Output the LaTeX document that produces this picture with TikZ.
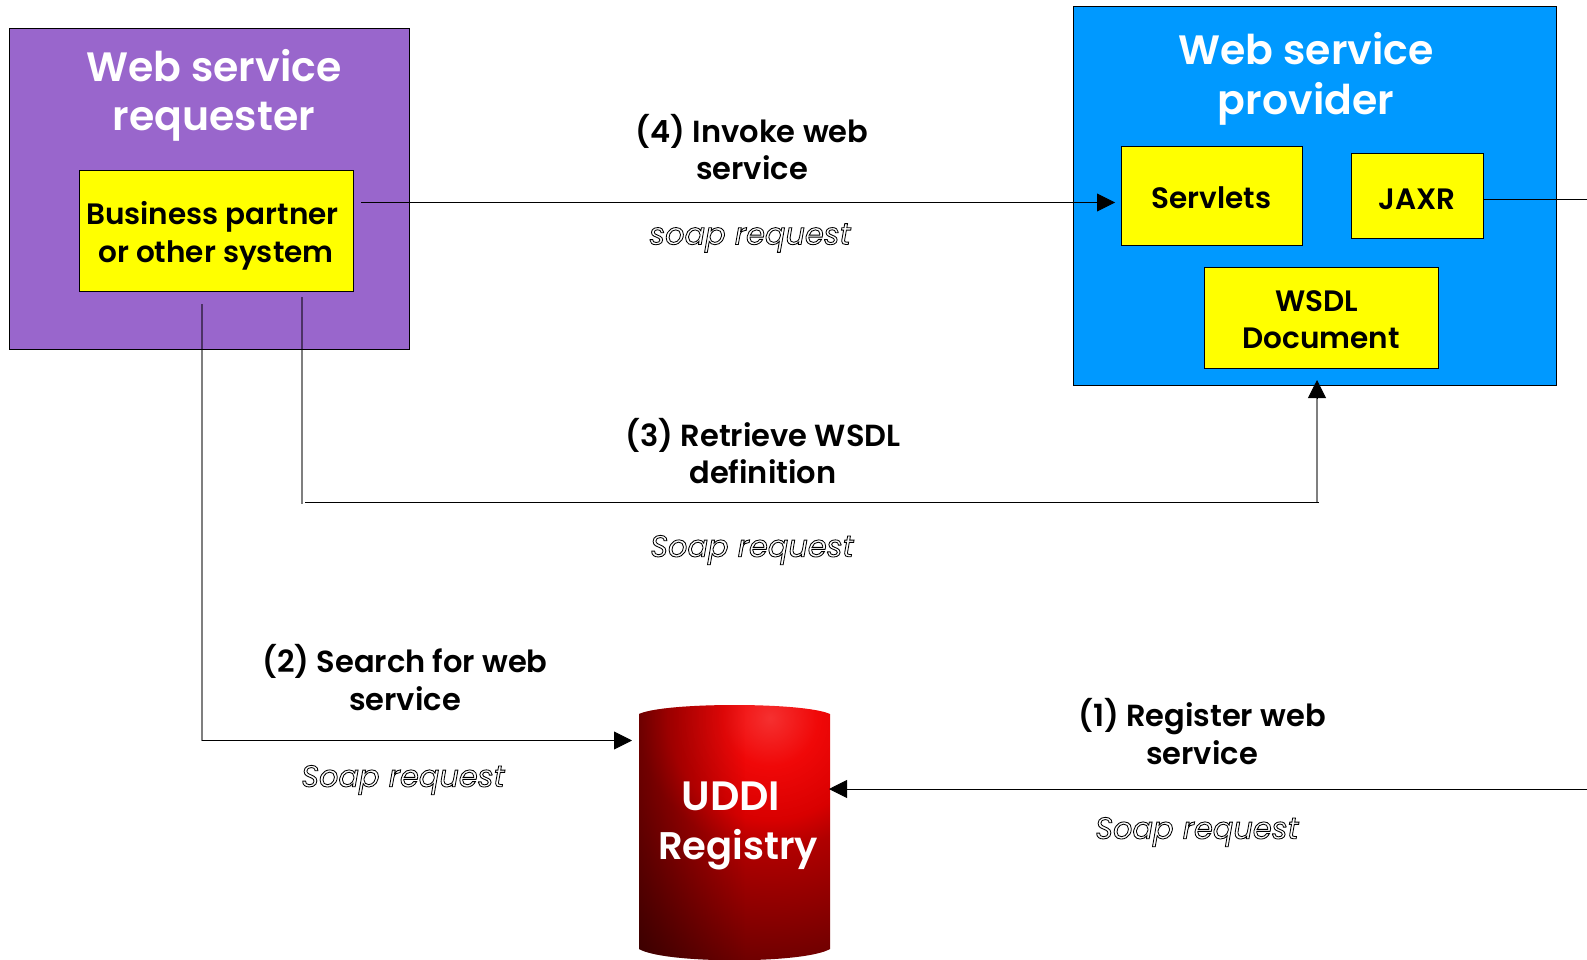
\documentclass[tikz,border=0pt]{standalone}
\usepackage{fontspec}
\setmainfont[BoldFont={Poppins SemiBold}]{Poppins}
\usetikzlibrary{arrows.meta,fadings}
\newcommand{\outl}[1]{\special{pdf:code q 1 Tr 0.85 w 0 0 0 RG}#1\special{pdf:code Q}}
\definecolor{cylA}{RGB}{245,48,48}
\definecolor{cylB}{RGB}{240,8,8}
\definecolor{cylC}{RGB}{216,0,0}
\definecolor{cylD}{RGB}{176,0,0}
\definecolor{cylE}{RGB}{138,0,0}
\definecolor{cylF}{RGB}{106,0,0}
\definecolor{cylG}{RGB}{80,0,0}
\pgfdeclareradialshading{cylshade}{\pgfpoint{0bp}{0bp}}{
  color(0bp)=(cylA); color(4bp)=(cylB); color(8.5bp)=(cylC); color(11bp)=(cylD);
  color(16.5bp)=(cylE); color(21bp)=(cylF); color(25bp)=(cylG); color(50bp)=(cylG)}
\tikzset{
  every node/.style={inner sep=0pt,outer sep=0pt,align=center},
  boxa/.style={draw=black,line width=0.8pt,fill=#1},
  inner box/.style={boxa=boxyellow},
  boxtext/.style={font=\bfseries\fontsize{29.5}{37.5}\selectfont},
  title/.style={text=white,font=\bfseries\fontsize{41}{49.5}\selectfont},
  lab/.style={font=\bfseries\fontsize{30.5}{37.5}\selectfont},
  soap/.style={font=\itshape\fontsize{30.4}{30}\selectfont,text=white},
  conn/.style={draw=black,line width=0.9pt},
  vconn/.style={draw=black,draw opacity=.5,line width=2pt},
  tip/.style={-{Triangle[length=18pt,width=18pt,color=black,fill=black]}}
}
\definecolor{boxyellow}{RGB}{255,255,0}
\definecolor{reqpurple}{RGB}{153,102,204}
\definecolor{provblue}{RGB}{0,153,255}
\begin{document}
\begin{tikzpicture}[x=1pt,y=-1pt]
\useasboundingbox (0,0) rectangle (1587,960);
% boxes
\node[boxa=reqpurple,minimum width=400pt,minimum height=321pt] (req) at (209.5,188.5) {};
\node[title] (reqt) at (214,95.5) {Web service\\requester};
\node[inner box,minimum width=274pt,minimum height=121pt] (biz) at (216,231) {};
\node[boxtext] (bizt) at (216,236) {\hspace*{-7pt}Business partner\\or other system};
\node[boxa=provblue,minimum width=483pt,minimum height=379pt] (prov) at (1314.5,196) {};
\node[title] (provt) at (1306,79) {Web service\\provider};
\node[inner box,minimum width=181pt,minimum height=99pt] (serv) at (1211.5,196) {};
\node[boxtext] (servt) at (1211.5,198) {Servlets};
\node[inner box,minimum width=132pt,minimum height=85pt] (jaxr) at (1417,196) {};
\node[boxtext] (jaxrt) at (1417,199.5) {JAXR};
\node[inner box,minimum width=234pt,minimum height=101pt] (wsdl) at (1321,318) {};
\node[boxtext] (wsdlt) at (1321,319.5) {\hspace*{-9pt}WSDL\\Document};
% cylinder
\begin{scope}
\clip (639,714) .. controls (665,702) and (804,702) .. (830,714) -- (830,949) .. controls (804,964) and (665,964) .. (639,949) -- cycle;
\shade[shading=cylshade] (770,718) circle (300pt);
\fill[black,opacity=.38,path fading=east] (639,700) rectangle (745,965);
\end{scope}
\node[title] (uddi) at (731,826) {UDDI\\\hspace*{14pt}{\fontsize{38.5}{49.5}\selectfont Registry}};
% labels
\node[lab] (l4) at (752,147) {(4) Invoke web\\service};
\node[soap] (s4) at (750,238) {\outl{soap request}};
\node[lab] (l3) at (763,451) {(3) Retrieve WSDL\\definition};
\node[soap] (s3) at (752,550) {\outl{Soap request}};
\node[lab] (l2) at (405,677.5) {(2) Search for web\\service};
\node[soap] (s2) at (403,780) {\outl{Soap request}};
\node[lab] (l1) at (1202,731.5) {(1) Register web\\service};
\node[soap] (s1) at (1197,832) {\outl{Soap request}};
% connector ends
\coordinate (a4) at (361,202.5);
\coordinate (b4) at (1115,202.5);
\coordinate (a3) at (302,297);
\coordinate (c3) at (302,504);
\coordinate (d3) at (305,502.5);
\coordinate (e3) at (1319,502.5);
\coordinate (f3) at (1317,503);
\coordinate (h3) at (1317,398);
\coordinate (g3) at (1317,380);
\coordinate (a2) at (202,304);
\coordinate (c2) at (202,741);
\coordinate (d2) at (202,740.5);
\coordinate (b2) at (632,740.5);
\coordinate (edgeTop) at (1587,199);
\coordinate (edgeBot) at (1587,789);
\coordinate (uin) at (829,789);
% connectors
\draw[conn,tip] (a4) -- (b4);
\draw[vconn] (a3) -- (c3);
\draw[conn] (d3) -- (e3);
\draw[vconn] (f3) -- (h3);
\draw[conn,tip] (h3) -- (g3);
\draw[vconn] (a2) -- (c2);
\draw[conn,tip] (d2) -- (b2);
\draw[conn] (jaxr.east |- edgeTop) -- (edgeTop);
\draw[conn,tip] (edgeBot) -- (uin);
\end{tikzpicture}
\end{document}
